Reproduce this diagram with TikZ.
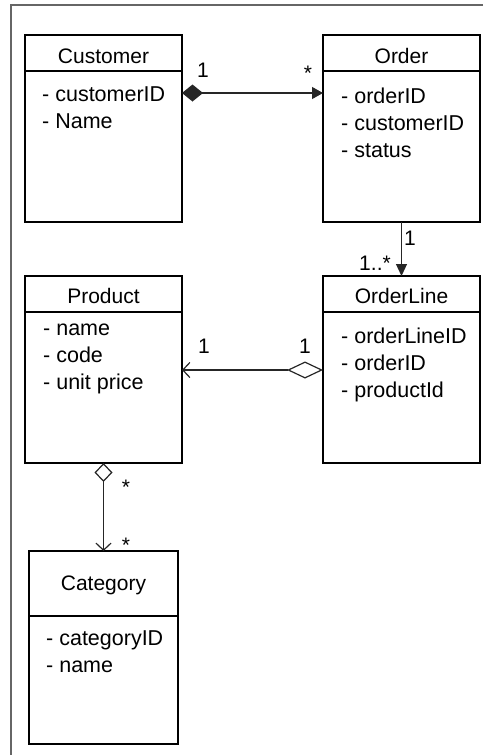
\documentclass[tikz,border=0pt]{standalone}
\usepackage{fontspec}
\setmainfont{Liberation Sans}
\usetikzlibrary{arrows.meta,positioning}

\begin{document}
\begin{tikzpicture}[x=1pt,y=-1pt,
		class/.style={rectangle,draw=black,line width=1.2pt,inner sep=0pt,outer sep=0pt,
			minimum width=157pt,minimum height=187pt},
		title/.style={anchor=base,inner sep=0pt,font=\fontsize{21}{27}\selectfont},
		attrs/.style={anchor=north west,align=left,inner sep=0pt,
			font=\fontsize{21.5}{27}\selectfont,execute at begin node=\strut},
		mult/.style={anchor=base,inner sep=0pt,font=\fontsize{21}{24}\selectfont},
		assoc/.style={draw=black!85,line width=1.2pt},
		composed/.style={assoc,{Diamond[length=21pt,width=17pt]}-{Triangle[length=11pt,width=12pt]}},
		directed/.style={assoc,-{Triangle[length=12pt,width=11pt]}},
		shared/.style={assoc,{Diamond[open,length=36pt,width=17pt]}-{Straight Barb[length=7pt,width=15pt]}},
		shared short/.style={assoc,{Diamond[open,length=19pt,width=18pt]}-{Straight Barb[length=7pt,width=15pt]}}
	]
	\useasboundingbox (0,0) rectangle (483,755);
	% outer frame
	\draw[line width=2.4pt,black!60] (483,5) -- (11,5) -- (11,755);

	% classes
	\node[class] (customer) at (103.5,128.5) {};
	\node[class] (order) [right=141pt of customer] {};
	\node[class] (product) [below=54pt of customer] {};
	\node[class] (orderline) [below=54pt of order] {};
	\node[class,minimum width=149pt,minimum height=193pt] (category) [below=88pt of product] {};

	% header separators
	\foreach \c in {customer,order,product,orderline}
		\draw[line width=1.2pt] ([yshift=-36pt]\c.north west) -- ([yshift=-36pt]\c.north east);
	\draw[line width=1.2pt] ([yshift=-65pt]category.north west) -- ([yshift=-65pt]category.north east);

	% names
	\node[title] (customer name) at ([yshift=-28pt]customer.north) {Customer};
	\node[title] (order name) at ([yshift=-28pt]order.north) {Order};
	\node[title] (product name) at ([yshift=-27pt]product.north) {Product};
	\node[title] (orderline name) at ([yshift=-27pt]orderline.north) {OrderLine};
	\node[title] (category name) at ([yshift=-39pt]category.north) {Category};

	% attributes
	\node[attrs] (customer attrs) at ([xshift=17pt,yshift=-52pt]customer.north west)
		{- customerID\\- Name};
	\node[attrs] (order attrs) at ([xshift=18pt,yshift=-53pt]order.north west)
		{- orderID\\- customerID\\- status};
	\node[attrs] (product attrs) at ([xshift=18pt,yshift=-48pt]product.north west)
		{- name\\- code\\- unit price};
	\node[attrs] (orderline attrs) at ([xshift=18pt,yshift=-52pt]orderline.north west)
		{- orderLineID\\- orderID\\- productId};
	\node[attrs] (category attrs) at ([xshift=17pt,yshift=-79pt]category.north west)
		{- categoryID\\- name};

	% associations
	\draw[composed] ([yshift=-58pt]customer.north east) -- ([yshift=-58pt]order.north west);
	\draw[directed] (order.south) -- (orderline.north);
	\draw[shared] ([yshift=-94pt]orderline.north west) -- ([yshift=-94pt]product.north east);
	\draw[shared short] (product.south) -- (category.north);

	% multiplicities
	\node[mult] (customer one) at (203,77) {1};
	\node[mult] (order many) at (308,80) {*};
	\node[mult] (order one) at (410,245) {1};
	\node[mult] (line many) at (375,270) {1..*};
	\node[mult] (product one) at (204,353) {1};
	\node[mult] (line one) at (305,353) {1};
	\node[mult] (product many) at (126,494) {*};
	\node[mult] (category many) at (126,552) {*};
\end{tikzpicture}
\end{document}
